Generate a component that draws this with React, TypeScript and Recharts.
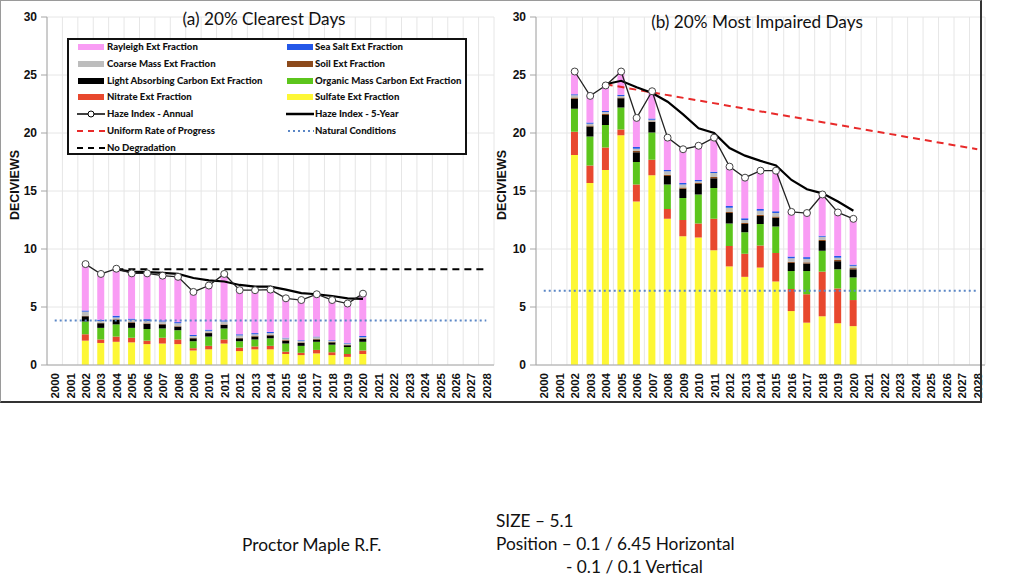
import React from 'react';
import { ComposedChart, Bar, Line, XAxis, YAxis, CartesianGrid } from 'recharts';

// ---------- categories ----------
const years = ['2000','2001','2002','2003','2004','2005','2006','2007','2008','2009','2010','2011','2012','2013','2014','2015','2016','2017','2018','2019','2020','2021','2022','2023','2024','2025','2026','2027','2028'];
const dataYears = ['2002','2003','2004','2005','2006','2007','2008','2009','2010','2011','2012','2013','2014','2015','2016','2017','2018','2019','2020'];
const fiveYearYears = ['2004','2005','2006','2007','2008','2009','2010','2011','2012','2013','2014','2015','2016','2017','2018','2019','2020'];
const yTicks = [0, 5, 10, 15, 20, 25, 30];

// ---------- (a) 20% clearest days ----------
const clrSulfate = [2.1,1.9,2.0,1.95,1.8,1.85,1.8,1.25,1.35,1.85,1.2,1.35,1.35,0.95,0.85,1.0,0.85,0.7,0.95];
const clrNitrate = [0.55,0.3,0.45,0.4,0.3,0.5,0.4,0.2,0.3,0.35,0.3,0.25,0.3,0.2,0.2,0.3,0.25,0.25,0.3];
const clrOMC = [1.1,1.0,1.05,0.85,1.0,0.8,0.8,0.6,0.8,0.95,0.55,0.6,0.65,0.7,0.6,0.7,0.65,0.6,0.75];
const clrLAC = [0.45,0.4,0.4,0.45,0.45,0.35,0.3,0.25,0.3,0.3,0.25,0.25,0.25,0.25,0.25,0.2,0.2,0.15,0.25];
const clrSoil = [0.05,0.05,0.05,0.05,0.05,0.05,0.05,0.05,0.05,0.05,0.05,0.05,0.05,0.05,0.05,0.05,0.05,0.05,0.05];
const clrCoarse = [0.35,0.15,0.15,0.2,0.2,0.2,0.25,0.15,0.15,0.25,0.2,0.15,0.15,0.15,0.15,0.15,0.1,0.1,0.1];
const clrSeaSalt = [0.1,0.1,0.15,0.1,0.15,0.1,0.1,0.1,0.1,0.1,0.1,0.1,0.1,0.05,0.05,0.05,0.05,0.05,0.1];
const clrRayleigh = [4.0,3.95,4.05,3.9,3.95,3.85,3.9,3.7,3.8,4.0,3.8,3.7,3.65,3.4,3.45,3.65,3.45,3.4,3.65];
const clrAnnual = [8.7,7.85,8.3,7.9,7.9,7.7,7.6,6.3,6.85,7.85,6.45,6.45,6.5,5.75,5.6,6.1,5.6,5.3,6.15];
const clrFiveYear = [8.25,8.05,8.0,7.95,7.85,7.5,7.3,7.2,6.9,6.75,6.75,6.5,6.2,6.1,5.95,5.75,5.7];
const clrNoDegradation = { start: '2004', end: '2028', value: 8.25 };
const clrNatural = { start: '2000', end: '2028', value: 3.83 };

// ---------- (b) 20% most impaired days ----------
const impSulfate = [18.1,15.7,16.8,19.8,14.1,16.35,12.6,11.1,11.0,9.9,8.5,7.6,8.4,7.2,4.65,3.65,4.2,3.6,3.35];
const impNitrate = [2.0,1.5,1.95,0.5,1.45,1.35,0.85,1.4,1.2,2.7,1.75,2.0,1.9,2.45,1.9,2.45,3.85,3.0,2.25];
const impOMC = [2.0,2.5,1.95,1.9,1.95,2.35,2.1,1.9,2.5,2.65,1.95,1.85,1.85,2.3,1.55,2.0,1.8,1.65,1.95];
const impLAC = [0.85,0.85,0.85,0.8,0.85,0.9,0.75,0.8,0.9,0.85,0.9,0.7,0.7,0.75,0.7,0.65,0.85,0.7,0.7];
const impSoil = [0.1,0.1,0.1,0.05,0.1,0.05,0.1,0.1,0.1,0.1,0.1,0.1,0.1,0.1,0.1,0.1,0.1,0.1,0.1];
const impCoarse = [0.2,0.15,0.15,0.15,0.2,0.15,0.3,0.25,0.15,0.35,0.35,0.25,0.35,0.3,0.3,0.3,0.25,0.2,0.2];
const impSeaSalt = [0.1,0.1,0.1,0.1,0.15,0.1,0.1,0.15,0.1,0.1,0.15,0.15,0.15,0.15,0.15,0.15,0.1,0.15,0.1];
const impRayleigh = [1.95,2.3,2.2,2.0,2.5,2.35,2.8,2.9,2.95,2.95,3.4,3.5,3.3,3.5,3.85,3.8,3.55,3.75,3.95];
const impAnnual = [25.3,23.2,24.1,25.3,21.3,23.6,19.6,18.6,18.9,19.6,17.1,16.15,16.75,16.75,13.2,13.1,14.7,13.15,12.6];
const impFiveYear = [24.2,24.5,23.95,23.45,22.7,21.6,20.4,20.0,18.7,18.05,17.6,17.2,15.95,15.15,14.8,14.1,13.3];
const impURP = { start: '2004', end: '2028', startValue: 24.2, endValue: 18.6 };
const impNatural = { start: '2000', end: '2028', value: 6.4 };

// ---------- styles ----------
const COLORS = {
  rayleigh: '#f99cf4',
  seaSalt: '#2457e8',
  coarse: '#bdbdbd',
  soil: '#8c4a1c',
  lac: '#000000',
  omc: '#5cc51c',
  nitrate: '#e8482e',
  sulfate: '#fdf735',
  urp: '#e82a2a',
  natural: '#5b87c6',
};

const AXIS_FONT = '"Liberation Sans", Arial, sans-serif';
const TEXT_FONT = 'Lato, "Open Sans", sans-serif';

type Comp = {
  sulfate: number[]; nitrate: number[]; omc: number[]; lac: number[];
  soil: number[]; coarse: number[]; seaSalt: number[]; rayleigh: number[];
  annual: number[]; fiveYear: number[];
};

function buildRows(c: Comp, refLines: { key: string; start: string; end: string; startValue: number; endValue: number }[]) {
  return years.map((year) => {
    const row: any = { year };
    const i = dataYears.indexOf(year);
    if (i >= 0) {
      row.sulfate = c.sulfate[i];
      row.nitrate = c.nitrate[i];
      row.omc = c.omc[i];
      row.lac = c.lac[i];
      row.soil = c.soil[i];
      row.coarse = c.coarse[i];
      row.seaSalt = c.seaSalt[i];
      row.rayleigh = c.rayleigh[i];
      row.annual = c.annual[i];
    }
    const j = fiveYearYears.indexOf(year);
    row.fiveYear = j >= 0 ? c.fiveYear[j] : null;
    refLines.forEach((r) => {
      row[r.key] = year === r.start ? r.startValue : year === r.end ? r.endValue : null;
    });
    return row;
  });
}

const clearRows = buildRows(
  { sulfate: clrSulfate, nitrate: clrNitrate, omc: clrOMC, lac: clrLAC, soil: clrSoil, coarse: clrCoarse, seaSalt: clrSeaSalt, rayleigh: clrRayleigh, annual: clrAnnual, fiveYear: clrFiveYear },
  [
    { key: 'noDeg', start: clrNoDegradation.start, end: clrNoDegradation.end, startValue: clrNoDegradation.value, endValue: clrNoDegradation.value },
    { key: 'natural', start: clrNatural.start, end: clrNatural.end, startValue: clrNatural.value, endValue: clrNatural.value },
  ]
);

const impRows = buildRows(
  { sulfate: impSulfate, nitrate: impNitrate, omc: impOMC, lac: impLAC, soil: impSoil, coarse: impCoarse, seaSalt: impSeaSalt, rayleigh: impRayleigh, annual: impAnnual, fiveYear: impFiveYear },
  [
    { key: 'urp', start: impURP.start, end: impURP.end, startValue: impURP.startValue, endValue: impURP.endValue },
    { key: 'natural', start: impNatural.start, end: impNatural.end, startValue: impNatural.value, endValue: impNatural.value },
  ]
);

const XTick = (props: any) => {
  const { x, y, payload } = props;
  return (
    <text
      x={0}
      y={0}
      transform={`translate(${x + 4.5},${y}) rotate(-90)`}
      textAnchor="end"
      fontSize={11.5}
      fontWeight="bold"
      fontFamily={AXIS_FONT}
      fill="#111"
    >
      {payload.value}
    </text>
  );
};

const boundaryGen = (args: any) => {
  const { offset } = args;
  const n = years.length;
  const out: number[] = [];
  for (let i = 0; i <= n; i++) out.push(offset.left + (offset.width * i) / n);
  return out;
};

const stackBars = [
  { key: 'sulfate', color: COLORS.sulfate },
  { key: 'nitrate', color: COLORS.nitrate },
  { key: 'omc', color: COLORS.omc },
  { key: 'lac', color: COLORS.lac },
  { key: 'soil', color: COLORS.soil },
  { key: 'coarse', color: COLORS.coarse },
  { key: 'seaSalt', color: COLORS.seaSalt },
  { key: 'rayleigh', color: COLORS.rayleigh },
];

function Panel({ rows, width, yAxisWidth, rightMargin, kind }: { rows: any[]; width: number; yAxisWidth: number; rightMargin: number; kind: 'clear' | 'imp' }) {
  return (
    <ComposedChart
      width={width}
      height={402}
      data={rows}
      margin={{ top: 17, right: rightMargin, bottom: 0, left: 0 }}
      barCategoryGap={0}
      style={{ fontFamily: AXIS_FONT }}
    >
      <CartesianGrid stroke="#e6e6e6" strokeWidth={1} verticalCoordinatesGenerator={boundaryGen} />
      <XAxis
        dataKey="year"
        interval={0}
        tick={<XTick />}
        tickLine={false}
        tickSize={0}
        tickMargin={8}
        height={37}
        axisLine={{ stroke: '#a6a6a6' }}
      />
      <YAxis
        domain={[0, 30]}
        ticks={yTicks}
        width={yAxisWidth}
        tickSize={6}
        tickMargin={4}
        axisLine={{ stroke: '#a6a6a6' }}
        tickLine={{ stroke: '#a6a6a6' }}
        tick={{ fontSize: 12, fontWeight: 'bold', fill: '#111', fontFamily: AXIS_FONT }}
        allowDataOverflow
      />
      {stackBars.map((b) => (
        <Bar key={b.key} dataKey={b.key} stackId="s" fill={b.color} barSize={7} isAnimationActive={false} />
      ))}
      {kind === 'clear' ? (
        <Line dataKey="noDeg" stroke="#000" strokeWidth={2} strokeDasharray="7 5" dot={false} connectNulls isAnimationActive={false} />
      ) : (
        <Line dataKey="urp" stroke={COLORS.urp} strokeWidth={2} strokeDasharray="7 5" dot={false} connectNulls isAnimationActive={false} />
      )}
      <Line dataKey="natural" stroke={COLORS.natural} strokeWidth={2} strokeDasharray="2 3" dot={false} connectNulls isAnimationActive={false} />
      <Line dataKey="fiveYear" stroke="#000" strokeWidth={2.2} dot={false} isAnimationActive={false} />
      <Line
        dataKey="annual"
        stroke="#222"
        strokeWidth={1.3}
        dot={{ r: 3.5, fill: '#fff', stroke: '#444', strokeWidth: 1 }}
        isAnimationActive={false}
      />
    </ComposedChart>
  );
}

const legendLeft = [
  { label: 'Rayleigh Ext Fraction', type: 'box', color: COLORS.rayleigh },
  { label: 'Coarse Mass Ext Fraction', type: 'box', color: COLORS.coarse },
  { label: 'Light Absorbing Carbon Ext Fraction', type: 'box', color: COLORS.lac },
  { label: 'Nitrate Ext Fraction', type: 'box', color: COLORS.nitrate },
  { label: 'Haze Index - Annual', type: 'marker', color: '#000' },
  { label: 'Uniform Rate of Progress', type: 'dash', color: COLORS.urp },
  { label: 'No Degradation', type: 'dash', color: '#000' },
];
const legendRight = [
  { label: 'Sea Salt Ext Fraction', type: 'box', color: COLORS.seaSalt },
  { label: 'Soil Ext Fraction', type: 'box', color: COLORS.soil },
  { label: 'Organic Mass Carbon Ext Fraction', type: 'box', color: COLORS.omc },
  { label: 'Sulfate Ext Fraction', type: 'box', color: COLORS.sulfate },
  { label: 'Haze Index - 5-Year', type: 'line', color: '#000' },
  { label: 'Natural Conditions', type: 'dot', color: COLORS.natural },
];

function LegendSymbol({ type, color }: { type: string; color: string }) {
  return (
    <svg width={28} height={10} style={{ display: 'block' }}>
      {type === 'box' && <rect x={1} y={2} width={26} height={6} fill={color} />}
      {type === 'marker' && (
        <g>
          <line x1={0} y1={5} x2={28} y2={5} stroke={color} strokeWidth={1.5} />
          <circle cx={14} cy={5} r={3} fill="#fff" stroke={color} strokeWidth={1} />
        </g>
      )}
      {type === 'line' && <line x1={0} y1={5} x2={28} y2={5} stroke={color} strokeWidth={2.5} />}
      {type === 'dash' && <line x1={0} y1={5} x2={28} y2={5} stroke={color} strokeWidth={2} strokeDasharray="6 5" />}
      {type === 'dot' && <line x1={2} y1={5} x2={28} y2={5} stroke={color} strokeWidth={2} strokeDasharray="2 3" />}
    </svg>
  );
}

function LegendColumn({ items, left, symLeft }: { items: any[]; left: number; symLeft: number }) {
  return (
    <>
      {items.map((it, i) => (
        <div key={it.label} style={{ position: 'absolute', left: symLeft, top: 1 + i * 16.8, display: 'flex', alignItems: 'center', height: 12 }}>
          <LegendSymbol type={it.type} color={it.color} />
          <span style={{ position: 'absolute', left: left - symLeft, whiteSpace: 'nowrap', fontFamily: TEXT_FONT, fontWeight: 900, fontSize: 9.6, color: '#111', lineHeight: '12px' }}>
            {it.label}
          </span>
        </div>
      ))}
    </>
  );
}

const footerStyle: React.CSSProperties = { position: 'absolute', fontFamily: TEXT_FONT, fontSize: 17.3, color: '#111', whiteSpace: 'nowrap', lineHeight: '20px' };

export default function App() {
  return (
    <div style={{ position: 'absolute', left: 0, top: 0, width: 1024, height: 576, background: '#fff', overflow: 'hidden' }}>
      <div style={{ position: 'absolute', left: 0, top: 0 }}>
        <Panel rows={clearRows} width={500} yAxisWidth={47} rightMargin={6} kind="clear" />
      </div>
      <div style={{ position: 'absolute', left: 500, top: 0 }}>
        <Panel rows={impRows} width={490} yAxisWidth={36} rightMargin={5} kind="imp" />
      </div>

      {/* outer frame */}
      <div style={{ position: 'absolute', left: 0, top: 0, width: 979, height: 400, borderTop: '1px solid #9a9a9a', borderLeft: '1px solid #9a9a9a', borderRight: '2px solid #333', borderBottom: '2px solid #333', pointerEvents: 'none' }} />

      {/* titles */}
      <div style={{ position: 'absolute', left: 164, width: 200, top: 8, textAlign: 'center', fontFamily: TEXT_FONT, fontSize: 17.2, color: '#111' }}>(a) 20% Clearest Days</div>
      <div style={{ position: 'absolute', left: 637, width: 240, top: 11, textAlign: 'center', fontFamily: TEXT_FONT, fontSize: 17.2, color: '#111' }}>(b) 20% Most Impaired Days</div>

      {/* y-axis titles */}
      <div style={{ position: 'absolute', left: 15 - 50, top: 185 - 8, width: 100, textAlign: 'center', transform: 'rotate(-90deg)', fontFamily: AXIS_FONT, fontWeight: 'bold', fontSize: 12.5, color: '#111', lineHeight: '16px' }}>DECIVIEWS</div>
      <div style={{ position: 'absolute', left: 502 - 50, top: 185 - 8, width: 100, textAlign: 'center', transform: 'rotate(-90deg)', fontFamily: AXIS_FONT, fontWeight: 'bold', fontSize: 12.5, color: '#111', lineHeight: '16px' }}>DECIVIEWS</div>

      {/* legend */}
      <div style={{ position: 'absolute', left: 67, top: 38, width: 396, height: 113, border: '2px solid #111', background: '#fff' }}>
        <LegendColumn items={legendLeft} symLeft={8} left={38} />
        <LegendColumn items={legendRight} symLeft={217} left={246} />
      </div>

      {/* footer texts */}
      <div style={{ ...footerStyle, left: 242, top: 535 }}>Proctor Maple R.F.</div>
      <div style={{ ...footerStyle, left: 496, top: 511 }}>SIZE – 5.1</div>
      <div style={{ ...footerStyle, left: 496, top: 534 }}>Position – 0.1 / 6.45 Horizontal</div>
      <div style={{ ...footerStyle, left: 566, top: 557 }}>- 0.1 / 0.1 Vertical</div>
    </div>
  );
}
